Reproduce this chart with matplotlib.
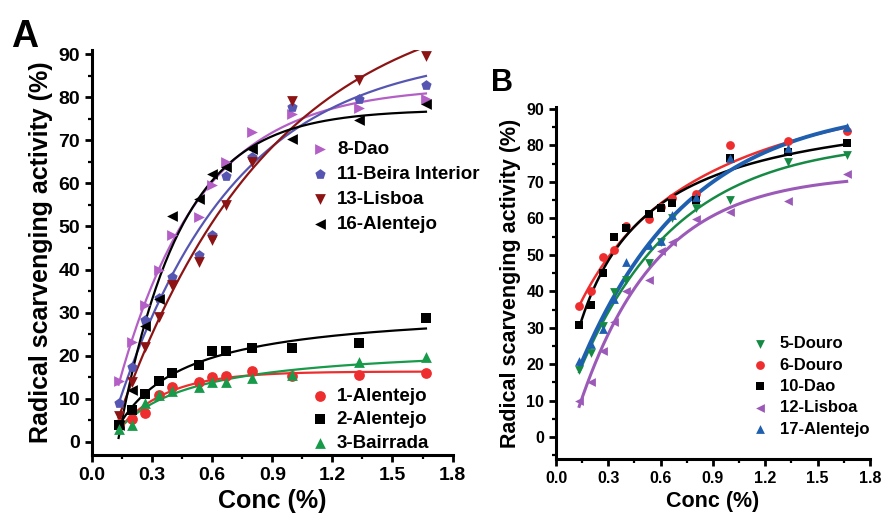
"""Radical scavenging activity vs concentration, two panels (A, B)."""

import matplotlib

matplotlib.use("Agg")
import matplotlib.pyplot as plt
from matplotlib.ticker import MultipleLocator
import numpy as np

plt.rcParams["font.family"] = ["Liberation Sans", "DejaVu Sans"]
plt.rcParams["font.weight"] = "bold"

# concentrations (%) shared by every sample
CONC = [0.133, 0.2, 0.267, 0.333, 0.4, 0.533, 0.6, 0.667, 0.8, 1.0, 1.333, 1.667]

# panel A, high-activity group
DAO_8 = [14.2, 23.1, 31.8, 39.9, 48.0, 52.1, 59.5, 65.0, 71.9, 76.1, 77.4, 79.6]
BEIRA_11 = [9.0, 17.3, 28.3, 33.3, 38.2, 43.4, 48.1, 61.6, 66.2, 77.6, 79.6, 82.9]
LISBOA_13 = [6.1, 14.0, 22.0, 29.0, 36.5, 41.7, 46.8, 55.0, 65.0, 79.2, 84.0, 89.6]
ALENTEJO_16 = [3.9, 12.0, 27.0, 33.2, 52.5, 56.4, 62.2, 63.8, 68.0, 70.2, 74.7, 78.3]
# panel A, low-activity group
ALENTEJO_1 = [4.2, 5.2, 6.7, 10.8, 12.7, 13.8, 15.0, 15.2, 16.5, 15.4, 15.6, 15.9]
ALENTEJO_2 = [4.0, 7.3, 11.0, 14.2, 16.0, 17.9, 21.2, 21.0, 21.7, 21.7, 22.9, 28.8]
BAIRRADA_3 = [3.1, 4.0, 9.0, 10.8, 11.7, 12.8, 13.8, 14.0, 14.8, 15.5, 18.5, 19.6]

# panel B
DOURO_5 = [18.5, 23.2, 30.5, 39.7, 43.0, 47.8, 53.5, 60.0, 62.8, 65.1, 75.6, 77.4]
DOURO_6 = [36.1, 40.0, 49.4, 51.4, 58.0, 59.9, 63.0, 65.5, 66.7, 80.1, 81.3, 84.1]
DAO_10 = [30.7, 36.2, 45.0, 55.0, 57.5, 61.2, 62.8, 64.2, 65.0, 76.5, 78.1, 80.6]
LISBOA_12 = [10.0, 15.0, 23.7, 31.7, 40.0, 43.0, 51.1, 53.6, 59.8, 61.8, 64.9, 72.2]
ALENTEJO_17 = [20.9, 25.5, 29.6, 38.0, 47.9, 52.8, 53.9, 61.0, 66.0, 76.5, 79.3, 85.0]

PANEL_A_TOP = [
    ("8-Dao", DAO_8, ">", "#b35fc6"),
    ("11-Beira Interior", BEIRA_11, "p", "#5656b2"),
    ("13-Lisboa", LISBOA_13, "v", "#8c1414"),
    ("16-Alentejo", ALENTEJO_16, "<", "#000000"),
]
PANEL_A_BOTTOM = [
    ("1-Alentejo", ALENTEJO_1, "o", "#ee2e2e"),
    ("2-Alentejo", ALENTEJO_2, "s", "#000000"),
    ("3-Bairrada", BAIRRADA_3, "^", "#179a4a"),
]
PANEL_B = [
    ("5-Douro", DOURO_5, "v", "#168a45", 1.8),
    ("6-Douro", DOURO_6, "o", "#ee2e2e", 1.8),
    ("10-Dao", DAO_10, "s", "#000000", 1.8),
    ("12-Lisboa", LISBOA_12, "<", "#9c5ab8", 2.2),
    ("17-Alentejo", ALENTEJO_17, "^", "#1f5fb0", 2.8),
]


def fit_curve(x, y, xs):
    """Least-squares saturation fit (exp or hyperbolic, best of both)."""
    x = np.asarray(x, float)
    y = np.asarray(y, float)
    best_sse, best_pred = np.inf, None
    candidates = []
    for k in np.linspace(0.2, 20, 400):
        candidates.append((np.exp(-k * x), np.exp(-k * xs)))
    for c in np.linspace(0.01, 6, 400):
        candidates.append((x / (c + x), xs / (c + xs)))
    for bx, bxs in candidates:
        M = np.column_stack([np.ones_like(x), bx])
        coef, *_ = np.linalg.lstsq(M, y, rcond=None)
        sse = float(np.sum((M @ coef - y) ** 2))
        if sse < best_sse:
            best_sse = sse
            best_pred = coef[0] + coef[1] * bxs
    return best_pred


def style_axis(ax, ylim, tick_size, label_size):
    ax.set_xlim(0, 1.8)
    ax.set_ylim(*ylim)
    ax.spines["top"].set_visible(False)
    ax.spines["right"].set_visible(False)
    ax.spines["left"].set_linewidth(2.2)
    ax.spines["bottom"].set_linewidth(2.2)
    ax.xaxis.set_major_locator(MultipleLocator(0.3))
    ax.xaxis.set_minor_locator(MultipleLocator(0.15))
    ax.yaxis.set_major_locator(MultipleLocator(10))
    ax.yaxis.set_minor_locator(MultipleLocator(5))
    ax.set_yticks(np.arange(0, 91, 10))
    ax.tick_params(which="major", direction="out", length=5, width=2,
                   labelsize=tick_size)
    ax.tick_params(which="minor", direction="out", length=3, width=1.6)
    ax.xaxis.set_major_formatter(plt.FuncFormatter(lambda v, _: f"{v:.1f}"))
    ax.set_xlabel("Conc (%)", fontsize=label_size, fontweight="bold")
    ax.set_ylabel("Radical scarvenging activity (%)", fontsize=label_size,
                  fontweight="bold")


fig = plt.figure(figsize=(8.84, 5.18), dpi=100)
xs = np.linspace(CONC[0], CONC[-1], 200)

# ---- panel A
ax_a = fig.add_axes([0.104, 0.122, 0.408, 0.782])
handles_top, handles_bottom = [], []
for group, store in ((PANEL_A_TOP, handles_top), (PANEL_A_BOTTOM, handles_bottom)):
    for label, vals, marker, color in group:
        ax_a.plot(xs, fit_curve(CONC, vals, xs), color=color, lw=1.6, zorder=2)
        h = ax_a.scatter(CONC, vals, marker=marker, s=60, color=color,
                         linewidths=0, label=label, zorder=3)
        store.append(h)
style_axis(ax_a, (-3, 91), 14, 18)
ax_a.yaxis.labelpad = 4

leg1 = ax_a.legend(handles=handles_top, loc="upper left",
                   bbox_to_anchor=(0.354, 0.729), bbox_transform=fig.transFigure,
                   frameon=False, fontsize=13.5, handlelength=0.8,
                   handletextpad=0.5, labelspacing=0.42, borderpad=0,
                   borderaxespad=0, scatterpoints=1)
ax_a.add_artist(leg1)
ax_a.legend(handles=handles_bottom, loc="upper left",
            bbox_to_anchor=(0.353, 0.252), bbox_transform=fig.transFigure,
            frameon=False, fontsize=13.5, handlelength=0.8,
            handletextpad=0.5, labelspacing=0.35, borderpad=0,
            borderaxespad=0, scatterpoints=1)

# ---- panel B
ax_b = fig.add_axes([0.629, 0.114, 0.355, 0.679])
handles_b = []
for label, vals, marker, color, lw in PANEL_B:
    ax_b.plot(xs, fit_curve(CONC, vals, xs), color=color, lw=lw, zorder=2)
    h = ax_b.scatter(CONC, vals, marker=marker, s=40, color=color,
                     linewidths=0, label=label, zorder=3)
    handles_b.append(h)
style_axis(ax_b, (-6, 90.5), 11.5, 15.5)
ax_b.legend(handles=handles_b, loc="upper left",
            bbox_to_anchor=(0.852, 0.351), bbox_transform=fig.transFigure,
            frameon=False, fontsize=12, handlelength=0.8,
            handletextpad=0.8, labelspacing=0.38, borderpad=0,
            borderaxespad=0, scatterpoints=1)

fig.text(0.013, 0.91, "A", fontsize=27, fontweight="bold")
fig.text(0.555, 0.825, "B", fontsize=22, fontweight="bold")

fig.savefig("out.png", dpi=100)
